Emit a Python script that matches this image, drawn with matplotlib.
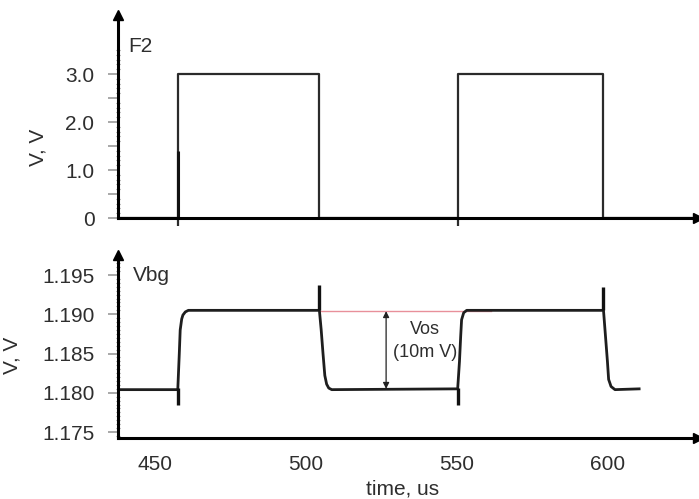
import matplotlib.pyplot as plt
import numpy as np
from matplotlib.ticker import FixedLocator

plt.rcParams['font.family'] = ['Liberation Sans', 'DejaVu Sans']

#### data ####
# F2 control signal (V)
f2_t = [437.7, 457.6, 457.6, 504.4, 504.4, 550.2, 550.2, 598.2, 598.2, 629.8]
f2_v = [0.0, 0.0, 3.0, 3.0, 0.0, 0.0, 3.0, 3.0, 0.0, 0.0]
f2_glitch_t = 457.6
f2_glitch_v = 1.4
f2_edge_ticks = [457.6, 550.2]

# Vbg bandgap output (V)
vbg_t = [437.7, 457.5, 458.0, 458.3, 458.8, 459.2, 460.0, 461.0,
         504.4, 505.0, 505.6, 506.2, 506.8, 507.5, 508.5,
         550.2, 550.8, 551.2, 551.5, 552.2, 553.2,
         598.5, 599.2, 599.8, 600.2, 601.0, 602.3, 610.3]
vbg_v = [1.1804, 1.1804, 1.1850, 1.1880, 1.1894, 1.1899, 1.1903, 1.1905,
         1.1905, 1.1880, 1.1850, 1.1822, 1.1811, 1.1806, 1.1804,
         1.1805, 1.1840, 1.1872, 1.1893, 1.1902, 1.1905,
         1.1905, 1.1870, 1.1840, 1.1817, 1.1808, 1.1804, 1.1805]

# switching spikes on Vbg
spike_t = [457.6, 504.4, 550.2, 598.5]
spike_lo = [1.1784, 1.1905, 1.1784, 1.1905]
spike_hi = [1.1806, 1.1937, 1.1806, 1.1935]

# offset annotation
ref_t = [504.6, 561.3]
ref_v = 1.1904
vos_t = 526.5
vos_hi = 1.1904
vos_lo = 1.1805
vos_text_t = 539.4

top_ticks = [0, 0.5, 1.0, 1.5, 2.0, 2.5, 3.0]
top_labels = ['0', '', '1.0', '', '2.0', '', '3.0']
bot_ticks = [1.175, 1.180, 1.185, 1.190, 1.195]
bot_labels = ['1.175', '1.180', '1.185', '1.190', '1.195']
x_ticks = [450, 500, 550, 600]
x_labels = ['450', '500', '550', '600']

txt = '#2e2e2e'
fs = 15

fig = plt.figure(figsize=(6.99, 4.99), dpi=100)
ax1 = fig.add_axes([118/699, 1-218/499, 580/699, 203/499])
ax2 = fig.add_axes([118/699, 1-438/499, 580/699, 183/499])

for ax in (ax1, ax2):
    ax.spines['top'].set_visible(False)
    ax.spines['right'].set_visible(False)
    ax.spines['left'].set_linewidth(2.2)
    ax.spines['bottom'].set_linewidth(2.2)
    ax.set_xlim(437.7, 629.8)
    ax.plot(1, 0, '>k', ms=7, transform=ax.transAxes, clip_on=False)
    ax.plot(0, 1, '^k', ms=7, transform=ax.transAxes, clip_on=False)
    ax.tick_params(axis='y', which='major', length=7, width=1.2, color='#999999',
                   labelsize=fs, labelcolor=txt, pad=10)
    ax.tick_params(axis='y', which='minor', length=3, width=0.8, color='#888888',
                   direction='inout')

##### top: F2 #####
ax1.plot(f2_t, f2_v, color='#2b2b2b', lw=1.6)
ax1.vlines(f2_glitch_t, 0, f2_glitch_v, color='#111111', lw=2.2)
ax1.set_ylim(0, 4.23)
ax1.set_yticks(top_ticks)
ax1.set_yticklabels(top_labels)
ax1.yaxis.set_minor_locator(FixedLocator(np.arange(0, 3.55, 0.1)))
ax1.set_xticks(f2_edge_ticks)
ax1.set_xticklabels([])
ax1.tick_params(axis='x', length=6, width=1.6, color='#2b2b2b')
ax1.set_ylabel('V, V', fontsize=fs, color=txt)
ax1.yaxis.set_label_coords(-0.122, 0.35)
ax1.text(0.017, 0.89, 'F2', transform=ax1.transAxes, fontsize=fs, color=txt,
         ha='left', va='top')

##### bottom: Vbg #####
ax2.plot(ref_t, [ref_v, ref_v], color='#e8909a', lw=1.0, zorder=1)
ax2.plot(vbg_t, vbg_v, color='#1e1e1e', lw=2.0, zorder=2)
ax2.vlines(spike_t, spike_lo, spike_hi, color='#111111', lw=2.4, zorder=3)
ax2.annotate('', xy=(vos_t, vos_hi), xytext=(vos_t, vos_lo),
             arrowprops=dict(arrowstyle='<|-|>', color='#222222', lw=0.9,
                             mutation_scale=9, shrinkA=0, shrinkB=0))
ax2.text(vos_text_t, 1.1880, 'Vos', fontsize=13, color=txt, ha='center', va='center')
ax2.text(vos_text_t, 1.1851, '(10m V)', fontsize=13, color=txt, ha='center', va='center')
ax2.text(0.026, 0.94, 'Vbg', transform=ax2.transAxes, fontsize=fs, color=txt,
         ha='left', va='top')
ax2.set_ylim(1.17424, 1.19755)
ax2.set_yticks(bot_ticks)
ax2.set_yticklabels(bot_labels)
ax2.yaxis.set_minor_locator(FixedLocator(np.arange(1.1745, 1.1966, 0.0005)))
ax2.set_xticks(x_ticks)
ax2.set_xticklabels(x_labels)
ax2.tick_params(axis='x', length=0, labelsize=fs, labelcolor=txt, pad=12)
ax2.set_ylabel('V, V', fontsize=fs, color=txt)
ax2.yaxis.set_label_coords(-0.166, 0.45)
ax2.set_xlabel('time, us', fontsize=fs, color=txt)
ax2.xaxis.set_label_coords(0.491, -0.225)

plt.savefig('out.png', dpi=100)
